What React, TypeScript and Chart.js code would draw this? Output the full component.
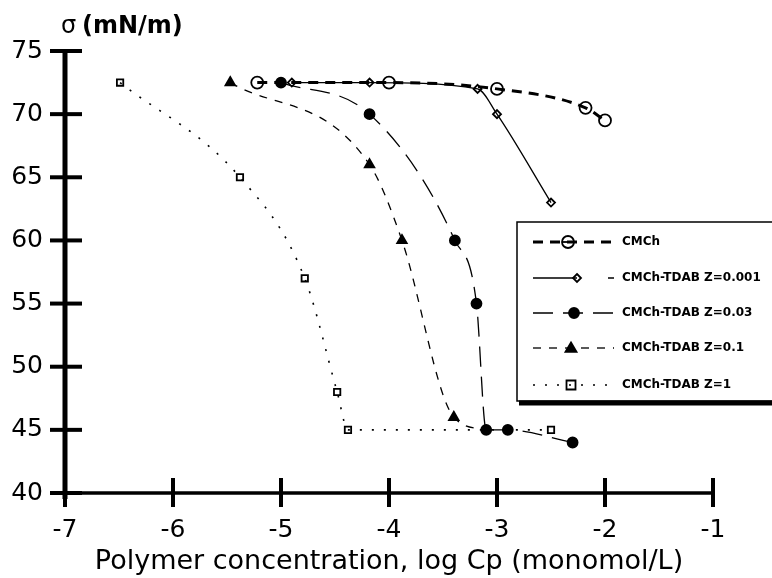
import React, { useEffect, useRef } from "react";
import { Chart, registerables } from "chart.js";
Chart.register(...registerables);

const xTicks = [-7, -6, -5, -4, -3, -2, -1];
const yTicks = [40, 45, 50, 55, 60, 65, 70, 75];

const cmchX = [-5.22, -4.0, -3.0, -2.18, -2.0];
const cmchY = [72.5, 72.5, 72.0, 70.5, 69.5];
const z0001X = [-4.9, -4.18, -3.18, -3.0, -2.5];
const z0001Y = [72.5, 72.5, 72.0, 70.0, 63.0];
const z003X = [-5.0, -4.18, -3.39, -3.19, -3.1, -2.9, -2.3];
const z003Y = [72.5, 70.0, 60.0, 55.0, 45.0, 45.0, 44.0];
const z01X = [-5.47, -4.18, -3.88, -3.4, -3.1];
const z01Y = [72.5, 66.0, 60.0, 46.0, 45.0];
const z1X = [-6.49, -5.38, -4.78, -4.48, -4.38, -2.5];
const z1Y = [72.5, 65.0, 57.0, 48.0, 45.0, 45.0];

const legendLabels = [
  "CMCh",
  "CMCh-TDAB Z=0.001",
  "CMCh-TDAB Z=0.03",
  "CMCh-TDAB Z=0.1",
  "CMCh-TDAB Z=1",
];

const FONT = "'DejaVu Sans', sans-serif";

const pts = (xs: number[], ys: number[]) => xs.map((x, i) => ({ x, y: ys[i] }));

const seriesStyle = [
  { dash: [10, 7], width: 3, marker: "circle", r: 6, fill: false },
  { dash: [], width: 1.3, marker: "diamond", r: 4, fill: false },
  { dash: [20, 10], width: 1.3, marker: "circle", r: 5, fill: true },
  { dash: [8, 8], width: 1.3, marker: "triangle", r: 5.5, fill: true },
  { dash: [2, 10], width: 1.6, marker: "square", r: 4.5, fill: false },
];

function drawMarker(ctx: CanvasRenderingContext2D, kind: string, x: number, y: number, r: number, fill: boolean) {
  ctx.save();
  ctx.setLineDash([]);
  ctx.lineWidth = 1.8;
  ctx.strokeStyle = "#000";
  ctx.fillStyle = fill ? "#000" : "#fff";
  ctx.beginPath();
  if (kind === "circle") ctx.arc(x, y, r, 0, Math.PI * 2);
  else if (kind === "diamond") {
    ctx.moveTo(x, y - r); ctx.lineTo(x + r, y); ctx.lineTo(x, y + r); ctx.lineTo(x - r, y); ctx.closePath();
  } else if (kind === "triangle") {
    ctx.moveTo(x, y - r); ctx.lineTo(x + r, y + r * 0.7); ctx.lineTo(x - r, y + r * 0.7); ctx.closePath();
  } else {
    ctx.rect(x - r, y - r, 2 * r, 2 * r);
  }
  if (fill) ctx.fill();
  else if (kind === "circle") {
    ctx.stroke();
    ctx.beginPath(); ctx.moveTo(x - r, y); ctx.lineTo(x + r, y);
  }
  ctx.stroke();
  ctx.restore();
}

const decorPlugin = {
  id: "decor",
  afterDraw(chart: any) {
    const ctx: CanvasRenderingContext2D = chart.ctx;
    const xs = chart.scales.x, ys = chart.scales.y;
    const left = xs.getPixelForValue(-7);
    const right = xs.getPixelForValue(-1);
    const top = ys.getPixelForValue(75);
    const bottom = ys.getPixelForValue(40);
    ctx.save();
    ctx.strokeStyle = "#000";
    ctx.setLineDash([]);
    ctx.lineCap = "butt";
    ctx.lineWidth = 5;
    ctx.beginPath(); ctx.moveTo(left, top - 2); ctx.lineTo(left, bottom + 6); ctx.stroke();
    ctx.lineWidth = 3.5;
    ctx.beginPath(); ctx.moveTo(left - 14, bottom); ctx.lineTo(right, bottom); ctx.stroke();
    ctx.lineWidth = 4;
    yTicks.forEach((v) => {
      const y = ys.getPixelForValue(v);
      ctx.beginPath(); ctx.moveTo(left - 15, y); ctx.lineTo(left + 17, y); ctx.stroke();
    });
    xTicks.forEach((v) => {
      const x = xs.getPixelForValue(v);
      ctx.beginPath(); ctx.moveTo(x, bottom - 15); ctx.lineTo(x, bottom + 14); ctx.stroke();
    });

    // y title
    ctx.fillStyle = "#000";
    ctx.textBaseline = "alphabetic";
    ctx.textAlign = "left";
    ctx.font = `24px ${FONT}`;
    ctx.fillText("σ", 61, 33);
    ctx.font = `bold 24px ${FONT}`;
    ctx.fillText("(mN/m)", 82, 33);

    // legend box
    const lx = 517, ly = 222, lr = 776, lb = 401;
    ctx.fillStyle = "#fff";
    ctx.fillRect(lx, ly, lr - lx, lb - ly);
    ctx.lineWidth = 1.5;
    ctx.strokeRect(lx, ly, lr - lx, lb - ly);
    ctx.lineWidth = 5;
    ctx.beginPath(); ctx.moveTo(lx + 2, lb + 2); ctx.lineTo(lr, lb + 2); ctx.stroke();

    const rowY = [242, 278, 313, 348, 385];
    const markX = [568, 577, 574, 571, 571];
    rowY.forEach((ry, i) => {
      const st = seriesStyle[i];
      ctx.save();
      ctx.strokeStyle = "#000";
      ctx.lineWidth = st.width;
      ctx.setLineDash(st.dash);
      ctx.beginPath();
      if (st.dash.length === 0) {
        ctx.moveTo(533, ry); ctx.lineTo(markX[i], ry);
        ctx.moveTo(608, ry); ctx.lineTo(614, ry);
      } else {
        ctx.moveTo(533, ry); ctx.lineTo(614, ry);
      }
      ctx.stroke();
      ctx.restore();
      drawMarker(ctx, st.marker, markX[i], ry, st.r, st.fill);
      ctx.fillStyle = "#000";
      ctx.font = `bold 12px ${FONT}`;
      ctx.textBaseline = "middle";
      ctx.fillText(legendLabels[i], 622, ry);
    });
    ctx.restore();
  },
};

export default function App() {
  const ref = useRef<HTMLCanvasElement | null>(null);
  useEffect(() => {
    if (!ref.current) return;
    const mk = (data: any[], i: number, radii?: number[]) => {
      const st = seriesStyle[i];
      const ps: any = st.marker === "diamond" ? "rectRot" : st.marker === "square" ? "rect" : st.marker;
      return {
        label: legendLabels[i],
        data,
        borderColor: "#000",
        borderWidth: st.width,
        borderDash: st.dash,
        backgroundColor: st.fill ? "#000" : "rgba(255,255,255,0)",
        pointStyle: ps,
        pointRadius: radii ?? st.r,
        pointBorderWidth: 1.8,
        pointBorderColor: "#000",
        pointBackgroundColor: st.fill ? "#000" : "rgba(255,255,255,0)",
        cubicInterpolationMode: "monotone",
        fill: false,
      };
    };
    const chart = new Chart(ref.current, {
      type: "line",
      data: {
        datasets: [
          mk(pts(cmchX, cmchY), 0),
          mk(pts(z0001X, z0001Y), 1),
          mk(pts(z003X, z003Y), 2),
          mk(pts(z01X, z01Y), 3, [5.5, 5.5, 5.5, 5.5, 0]),
          mk(pts(z1X, z1Y), 4),
        ] as any,
      },
      options: {
        responsive: false,
        animation: false,
        devicePixelRatio: 1,
        layout: { padding: { left: 0, top: 51, right: 59, bottom: 0 } },
        plugins: { legend: { display: false }, tooltip: { enabled: false } },
        scales: {
          x: {
            type: "linear",
            min: -7,
            max: -1,
            afterBuildTicks: (s: any) => { s.ticks = xTicks.map((v) => ({ value: v })); },
            afterFit: (s: any) => { s.height = 85; },
            grid: { display: false, drawTicks: false },
            border: { display: false },
            ticks: { color: "#000", font: { family: FONT, size: 25 }, padding: 22, callback: (v: any) => String(v) },
            title: {
              display: true,
              text: "Polymer concentration, log Cp (monomol/L)",
              color: "#000",
              font: { family: FONT, size: 27 },
              padding: { top: 0, bottom: 0 },
            },
          },
          y: {
            type: "linear",
            min: 40,
            max: 75,
            afterBuildTicks: (s: any) => { s.ticks = yTicks.map((v) => ({ value: v })); },
            afterFit: (s: any) => { s.width = 65; },
            grid: { display: false, drawTicks: false },
            border: { display: false },
            ticks: { color: "#000", font: { family: FONT, size: 25 }, padding: 22, callback: (v: any) => String(v) },
          },
        },
      } as any,
      plugins: [decorPlugin],
    });
    return () => chart.destroy();
  }, []);
  return (
    <div style={{ position: "absolute", left: 0, top: 0, width: 772, height: 578, background: "#fff" }}>
      <canvas ref={ref} width={772} height={578} style={{ width: 772, height: 578 }} />
    </div>
  );
}
